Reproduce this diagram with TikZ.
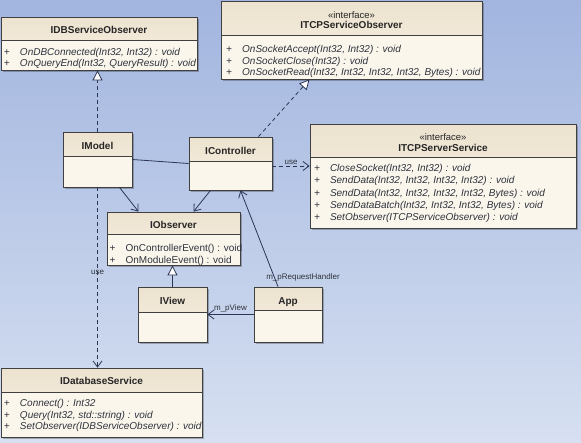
\documentclass[tikz,border=0pt]{standalone}
\usepackage{fontspec}
\setmainfont{Liberation Sans}
\usetikzlibrary{arrows.meta,shadows}
\definecolor{bgtop}{RGB}{162,181,223}
\definecolor{bgbot}{RGB}{214,224,241}
\definecolor{hdrtop}{RGB}{236,226,207}
\definecolor{hdrbot}{RGB}{248,241,228}
\definecolor{body}{RGB}{251,246,236}
\definecolor{edge}{RGB}{64,64,64}
\definecolor{conn}{RGB}{44,54,84}
\definecolor{ink}{RGB}{45,50,60}
\newcommand{\op}[1]{\strut\makebox[16pt][l]{+}#1}
\tikzset{
  cls/.style={draw=edge, line width=0.8pt, fill=body, inner sep=0pt,
    drop shadow={shadow xshift=2pt, shadow yshift=-2pt, opacity=0.25, fill=black},
    path picture={
      \shade[top color=hdrtop, bottom color=hdrbot] (path picture bounding box.north west) rectangle ([yshift=-#1pt]path picture bounding box.north east);
      \draw[edge, line width=0.8pt] ([yshift=-#1pt]path picture bounding box.north west) -- ([yshift=-#1pt]path picture bounding box.north east);}},
  title/.style={anchor=base, inner sep=0pt, font=\fontsize{10}{12}\selectfont\bfseries, text=black!85},
  stereo/.style={anchor=base, inner sep=0pt, font=\fontsize{9.5}{11}\selectfont, text=black!85},
  ops/.style={anchor=north west, inner sep=0pt, align=left, text=ink, font=\fontsize{10}{#1}\selectfont\itshape},
  lbl/.style={inner sep=1pt, text=ink, font=\fontsize{8}{9}\selectfont},
  link/.style={draw=conn, line width=0.8pt},
  nav/.style={link, -{Straight Barb[length=6pt,width=9pt]}},
  use/.style={nav, dash pattern=on 4pt off 3pt},
  gen/.style={link, -{Triangle[length=10pt,width=10pt,fill=white]}},
  real/.style={gen, dash pattern=on 4pt off 3pt}
}
\begin{document}
\begin{tikzpicture}[x=1pt, y=-1pt]
\useasboundingbox (0,0) rectangle (581,442);
\shade[top color=bgtop, bottom color=bgbot] (0,0) rectangle (581,442);

\node[cls=23, minimum width=196pt, minimum height=53pt] (dbobs) at (99,43.5) {};
\node[title] (dbobs-t) at (99,33.5) {IDBServiceObserver};
\node[ops=11] (dbobs-m) at (3.8,47.6) {\op{OnDBConnected(Int32, Int32) : void}\\\op{OnQueryEnd(Int32, QueryResult) : void}};

\node[cls=34, minimum width=261pt, minimum height=78pt] (tcpobs) at (351.5,40) {};
\node[stereo] (tcpobs-s) at (351.5,18.3) {«interface»};
\node[title] (tcpobs-t) at (351.5,28.6) {ITCPServiceObserver};
\node[ops=11.3] (tcpobs-m) at (226,44.7) {\op{OnSocketAccept(Int32, Int32) : void}\\\op{OnSocketClose(Int32) : void}\\\op{OnSocketRead(Int32, Int32, Int32, Int32, Bytes) : void}};

\node[cls=33, minimum width=266pt, minimum height=104pt] (server) at (443,176) {};
\node[stereo] (server-s) at (443,140) {«interface»};
\node[title] (server-t) at (443,151) {ITCPServerService};
\node[ops=12.3] (server-m) at (313.8,162.7) {\op{CloseSocket(Int32, Int32) : void}\\\op{SendData(Int32, Int32, Int32, Int32) : void}\\\op{SendData(Int32, Int32, Int32, Int32, Bytes) : void}\\\op{SendDataBatch(Int32, Int32, Int32, Bytes) : void}\\\op{SetObserver(ITCPServiceObserver) : void}};

\node[cls=24, minimum width=69pt, minimum height=55pt] (imodel) at (97.5,159.5) {};
\node[title] (imodel-t) at (97.5,149.6) {IModel};

\node[cls=24, minimum width=83pt, minimum height=53pt] (ictrl) at (230.5,163.5) {};
\node[title] (ictrl-t) at (230.5,154.6) {IController};

\node[cls=22, minimum width=133pt, minimum height=53pt] (iobs) at (173.5,238.5) {};
\node[title] (iobs-t) at (173.5,228) {IObserver};
\node[ops=11.7, font=\fontsize{10}{11.7}\selectfont] (iobs-m) at (109.4,243.4) {\op{OnControllerEvent() : void}\\\op{OnModuleEvent() : void}};

\node[cls=25, minimum width=69pt, minimum height=55pt] (iview) at (172.5,314.5) {};
\node[title] (iview-t) at (172.5,304.6) {IView};

\node[cls=23, minimum width=68pt, minimum height=55pt] (app) at (288,314.5) {};
\node[title] (app-t) at (288,304.3) {App};

\node[cls=24, minimum width=201pt, minimum height=69pt] (dbsvc) at (101.5,402.5) {};
\node[title] (dbsvc-t) at (101.5,384.3) {IDatabaseService};
\node[ops=11.7] (dbsvc-m) at (3.8,398.1) {\op{Connect() : Int32}\\\op{Query(Int32, std::string) : void}\\\op{SetObserver(IDBServiceObserver) : void}};

\draw[real] (imodel.north) -- (imodel.north |- dbobs.south);
\draw[use] (imodel.south) -- node[lbl, pos=0.47] (usedb) {use} (imodel.south |- dbsvc.north);
\draw[real] ([xshift=28pt]ictrl.north) -- ([xshift=-42pt]tcpobs.south);
\draw[use] ([yshift=-2.5pt]ictrl.east) -- node[lbl, above=0.5pt] (usetcp) {use} ([yshift=-2.5pt]ictrl.east -| server.west);
\draw[link] (imodel.east) -- (ictrl.west);
\draw[nav] ([xshift=22pt]imodel.south) -- ([xshift=-35pt]iobs.north);
\draw[nav] ([xshift=-20pt]ictrl.south) -- ([xshift=20pt]iobs.north);
\draw[gen] (iview.north) -- (iview.north |- iobs.south);
\draw[nav] (app.west) -- node[lbl, above=1pt] (lview) {m\_pView} (iview.east);
\draw[nav] ([xshift=-10pt]app.north) -- node[lbl, at start, anchor=south, xshift=25pt, yshift=4pt] (lhandler) {m\_pRequestHandler} ([xshift=10pt]ictrl.south);
\end{tikzpicture}
\end{document}
